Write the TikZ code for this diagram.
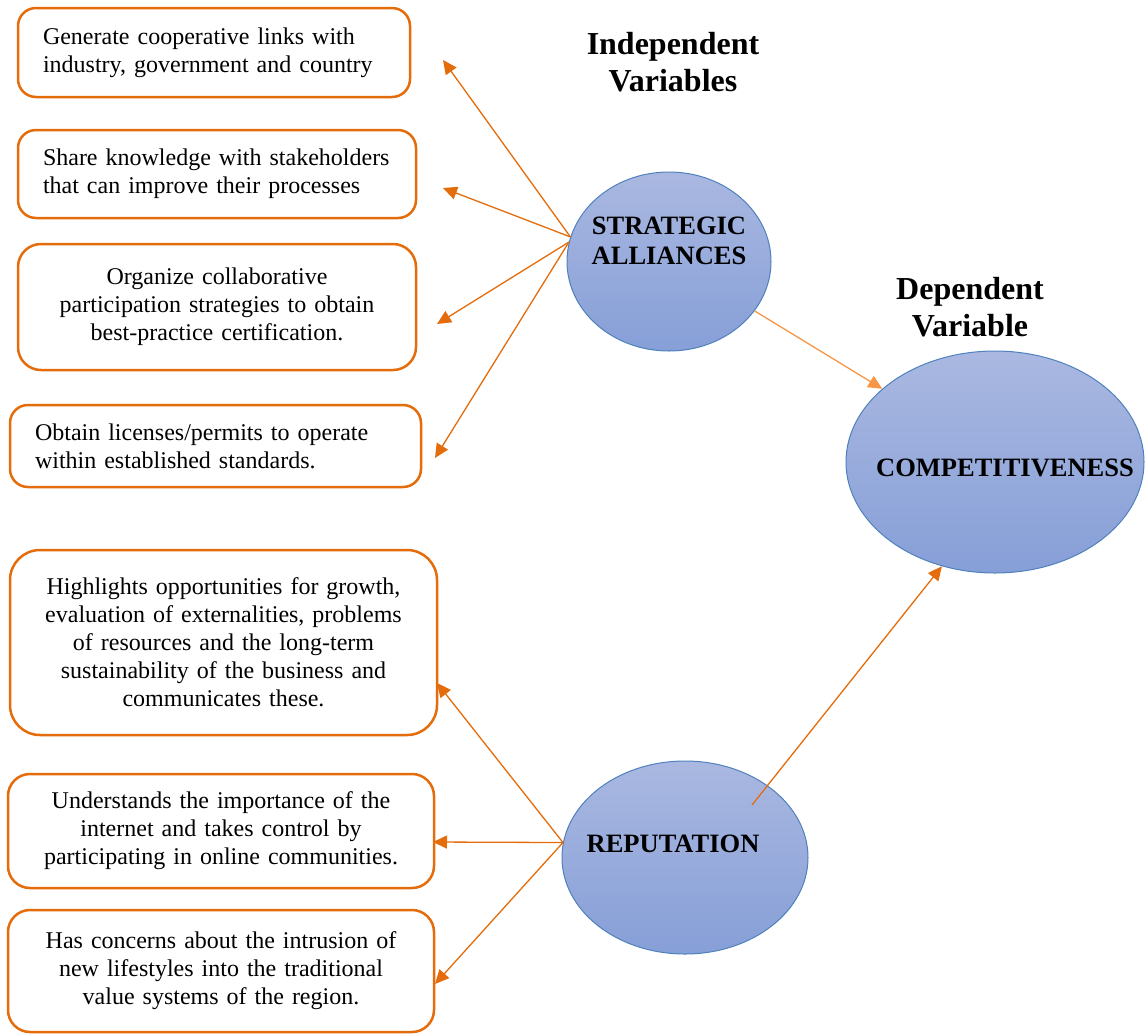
\documentclass[tikz,border=0pt]{standalone}
\usepackage{fontspec}
\setmainfont{Liberation Serif}
\usetikzlibrary{shapes.geometric,arrows.meta,calc}
\definecolor{orng}{RGB}{228,108,10}
\definecolor{lorng}{RGB}{247,150,70}
\definecolor{eborder}{RGB}{79,129,189}
\definecolor{etop}{RGB}{170,184,225}
\definecolor{ebot}{RGB}{134,159,215}
\newcommand{\bodyfnt}{\fontsize{24}{28}\selectfont}
\newcommand{\varfnt}{\fontsize{26.5}{30}\selectfont\bfseries}
\newcommand{\titlefnt}{\fontsize{32}{37}\selectfont\bfseries}
\tikzset{
  obox/.style={draw=orng, line width=2.5pt, rounded corners=18pt, inner xsep=25pt, inner ysep=0pt, font=\bodyfnt},
  varell/.style={ellipse, draw=eborder, line width=1pt, top color=etop, bottom color=ebot, inner sep=0pt},
  vartext/.style={align=center, inner sep=0pt, font=\varfnt},
  conn/.style={draw=orng, line width=1.3pt, -{Triangle[length=14pt,width=13pt]}},
  lconn/.style={draw=lorng, line width=1.3pt, -{Triangle[length=14pt,width=13pt]}}
}
\begin{document}
\begin{tikzpicture}[x=1pt,y=-1pt]
\useasboundingbox (0,0) rectangle (1145,1034);
% boxes
\node[obox, text width=342pt, minimum height=89pt, align=left] (b1) at (214,52.5)
  {Generate cooperative links with\\industry, government and country};
\node[obox, text width=348pt, minimum height=88pt, align=left] (b2) at (217,174)
  {Share knowledge with stakeholders\\that can improve their processes};
\node[obox, text width=348pt, minimum height=126pt, align=center, rounded corners=23pt] (b3) at (217,307)
  {Organize collaborative\\participation strategies to obtain\\best-practice certification.};
\node[obox, text width=361pt, minimum height=82pt, align=left] (b4) at (215.5,446)
  {Obtain licenses/permits to operate\\within established standards.};
\node[obox, text width=377pt, minimum height=185pt, align=center, rounded corners=30pt] (b5) at (223.5,642.5)
  {Highlights opportunities for growth,\\evaluation of externalities, problems\\of resources and the long-term\\sustainability of the business and\\communicates these.};
\node[obox, text width=376pt, minimum height=114pt, align=center, rounded corners=22pt] (b6) at (221,831)
  {Understands the importance of the\\internet and takes control by\\participating in online communities.};
\node[obox, text width=376pt, minimum height=122pt, align=center, rounded corners=22pt] (b7) at (221,971)
  {Has concerns about the intrusion of\\new lifestyles into the traditional\\value systems of the region.};
% titles
\node[align=center, inner sep=0pt, font=\titlefnt] (tind) at (673,62.5) {Independent\\Variables};
\node[align=center, inner sep=0pt, font=\titlefnt] (tdep) at (970,307.5) {Dependent\\Variable};
% ellipses
\node[varell, minimum width=204pt, minimum height=179pt] (sa) at (669,261.5) {};
\node[varell, minimum width=298pt, minimum height=222pt] (comp) at (995,462) {};
\node[varell, minimum width=246pt, minimum height=193pt] (rep) at (685,857.5) {};
\node[vartext] (saT) at (669,240.5) {STRATEGIC\\ALLIANCES};
\node[vartext] (compT) at (1005,468) {COMPETITIVENESS};
\node[vartext] (repT) at (673,843.5) {REPUTATION};
% arrow end points
\coordinate (t1) at (443,60);
\coordinate (t2) at (443,188);
\coordinate (t3) at (437,324);
\coordinate (t4) at (435,458);
\coordinate (t5) at (437,683);
\coordinate (t6) at (433,842);
\coordinate (t7) at (435,984);
\coordinate (repStart) at ($(rep.center)+(67,-52.5)$);
% connectors
\draw[conn] (sa.166) -- (t1);
\draw[conn] (sa.166) -- (t2);
\draw[conn] (sa.169) -- (t3);
\draw[conn] (sa.169) -- (t4);
\draw[conn] (rep.173) -- (t5);
\draw[conn] (rep.173) -- (t6);
\draw[conn] (rep.173) -- (t7);
\draw[lconn] (sa.-30) -- (comp.147);
\draw[conn] (repStart) -- (comp.243);
\end{tikzpicture}
\end{document}
